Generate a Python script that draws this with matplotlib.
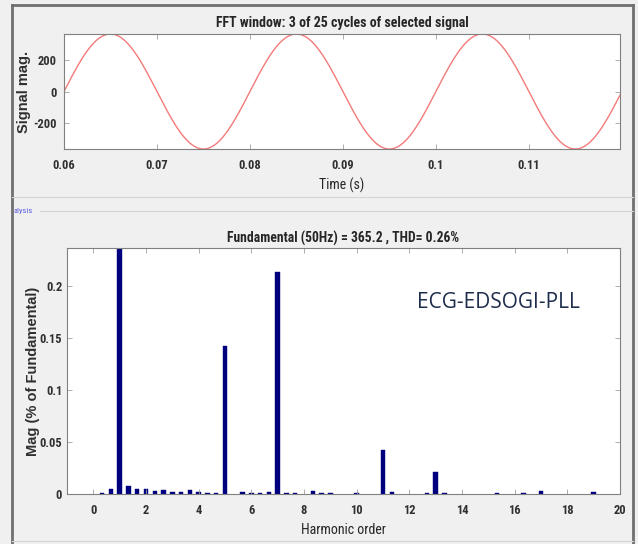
import numpy as np
import matplotlib
matplotlib.use('Agg')
import matplotlib.pyplot as plt
from matplotlib.lines import Line2D

plt.rcParams['axes.unicode_minus'] = False

# FFT analysis data
fundamental_mag = 365.2      # peak of the 50 Hz component
fundamental_hz = 50
thd_percent = 0.26
t_start = 0.06
t_end = 0.1198

# harmonic spectrum (window of 3 cycles -> bins every 1/3 harmonic)
harmonic_order = [1/3, 2/3, 1, 4/3, 5/3, 2, 7/3, 8/3, 3, 10/3, 11/3, 4, 13/3, 14/3,
                  5, 17/3, 6, 19/3, 20/3, 7, 22/3, 23/3, 25/3, 26/3, 9, 10,
                  11, 34/3, 38/3, 13, 40/3, 46/3, 49/3, 17, 19]
harmonic_mag = [0.0013, 0.0048, 100, 0.0076, 0.0050, 0.0045, 0.0030, 0.0035, 0.0022, 0.0022,
                0.0035, 0.0016, 0.0013, 0.0006, 0.142, 0.0022, 0.0010, 0.0010, 0.0016, 0.2135,
                0.0006, 0.0006, 0.0029, 0.0013, 0.0010, 0.0006, 0.0422, 0.0016, 0.0006, 0.0207,
                0.0006, 0.0006, 0.0006, 0.0029, 0.0022]

top_xticks = [0.06, 0.07, 0.08, 0.09, 0.1, 0.11]
top_xticklabels = ['0.06', '0.07', '0.08', '0.09', '0.1', '0.11']
top_yticks = [-200, 0, 200]
bot_xticks = [0, 2, 4, 6, 8, 10, 12, 14, 16, 18, 20]
bot_yticks = [0, 0.05, 0.1, 0.15, 0.2]
bot_yticklabels = ['0', '0.05', '0.1', '0.15', '0.2']

narrow = ['Liberation Sans Narrow', 'Roboto Condensed', 'Liberation Sans', 'DejaVu Sans']
wide = ['Liberation Sans', 'DejaVu Sans']
bg = '#f0f0f0'
frame = '#808080'
ink = '#262626'

fig = plt.figure(figsize=(6.38, 5.44), dpi=100, facecolor=bg)


def style_axes(ax, ypad):
    for s in ax.spines.values():
        s.set_color(frame)
        s.set_linewidth(0.8)
    ax.tick_params(direction='in', length=3.5, width=0.6, color='#a0a0a0',
                   top=True, right=True, labelcolor='#303030')
    ax.tick_params(axis='x', pad=7)
    ax.tick_params(axis='y', pad=ypad)
    for lab in ax.get_xticklabels() + ax.get_yticklabels():
        lab.set_family(narrow)
        lab.set_fontweight('bold')
        lab.set_fontsize(9)


# signal window
ax1 = fig.add_axes([0.1003, 0.7261, 0.8715, 0.2114])
t = np.linspace(t_start, t_end, 600)
ax1.plot(t, fundamental_mag * np.sin(2 * np.pi * fundamental_hz * (t - t_start)),
         color='#f47a7a', lw=1.0)
ax1.set_xlim(t_start, t_end)
ax1.set_ylim(-fundamental_mag, fundamental_mag)
ax1.set_xticks(top_xticks)
ax1.set_xticklabels(top_xticklabels)
ax1.set_yticks(top_yticks)
style_axes(ax1, 5)
ax1.text(0.5, 1.0957, 'FFT window: 3 of 25 cycles of selected signal', transform=ax1.transAxes,
         ha='center', va='center', family=narrow, fontweight='bold', fontsize=10, color=ink)
ax1.set_xlabel('Time (s)', family=narrow, fontsize=10, color=ink, va='center')
ax1.xaxis.set_label_coords(0.5, -0.313)
ax1.set_ylabel('Signal mag.', family=wide, fontweight='bold', fontsize=10.5, color='#303030',
               va='center')
ax1.yaxis.set_label_coords(-0.072, 0.5)

# harmonic spectrum
ax2 = fig.add_axes([0.105, 0.0919, 0.8668, 0.4522])
ax2.bar(harmonic_order, harmonic_mag, width=0.17, color='#00007f', edgecolor='#00007f',
        linewidth=0.3)
ax2.set_xlim(-1, 20)
ax2.set_ylim(0, 0.2365)
ax2.set_xticks(bot_xticks)
ax2.set_yticks(bot_yticks)
ax2.set_yticklabels(bot_yticklabels)
style_axes(ax2, 3.5)
ax2.text(0.5, 1.0407,
         'Fundamental (%dHz) = %.1f , THD= %.2f%%' % (fundamental_hz, fundamental_mag, thd_percent),
         transform=ax2.transAxes, ha='center', va='center', family=narrow, fontweight='bold',
         fontsize=9.8, color=ink)
ax2.set_xlabel('Harmonic order', family=narrow, fontsize=10, color=ink, va='center')
ax2.xaxis.set_label_coords(0.5, -0.146)
ax2.set_ylabel('Mag (% of Fundamental)', family=wide, fontweight='bold', fontsize=10.5,
               color='#303030', va='center')
ax2.yaxis.set_label_coords(-0.0615, 0.5)
ax2.text(0.633, 0.78, 'ECG-EDSOGI-PLL', transform=ax2.transAxes, ha='left', va='center',
         family=['Open Sans', 'DejaVu Sans'], fontsize=15, color='#1f2d4d')

# window frame and panel separators
H = 544.0
W = 638.0
def fig_line(x0, x1, y0, y1, color, lw):
    fig.add_artist(Line2D([x0 / W, x1 / W], [1 - y0 / H, 1 - y1 / H],
                          color=color, lw=lw, transform=fig.transFigure))

fig_line(12, 12, 5, 544, '#707070', 2.0)
fig_line(12, 633, 5, 5, '#707070', 2.0)
fig_line(633, 633, 5, 544, '#707070', 2.0)
fig_line(12, 633, 197, 197, '#d4d4d4', 0.8)
fig_line(40, 633, 211, 211, '#d4d4d4', 0.8)
fig_line(12, 633, 541, 541, '#d4d4d4', 0.8)
fig.text(13 / W, 1 - 211 / H, 'alysis', color='#5a5ae0', fontsize=6, va='center', ha='left',
         family=narrow)

fig.savefig('out.png', dpi=100, facecolor=bg)
